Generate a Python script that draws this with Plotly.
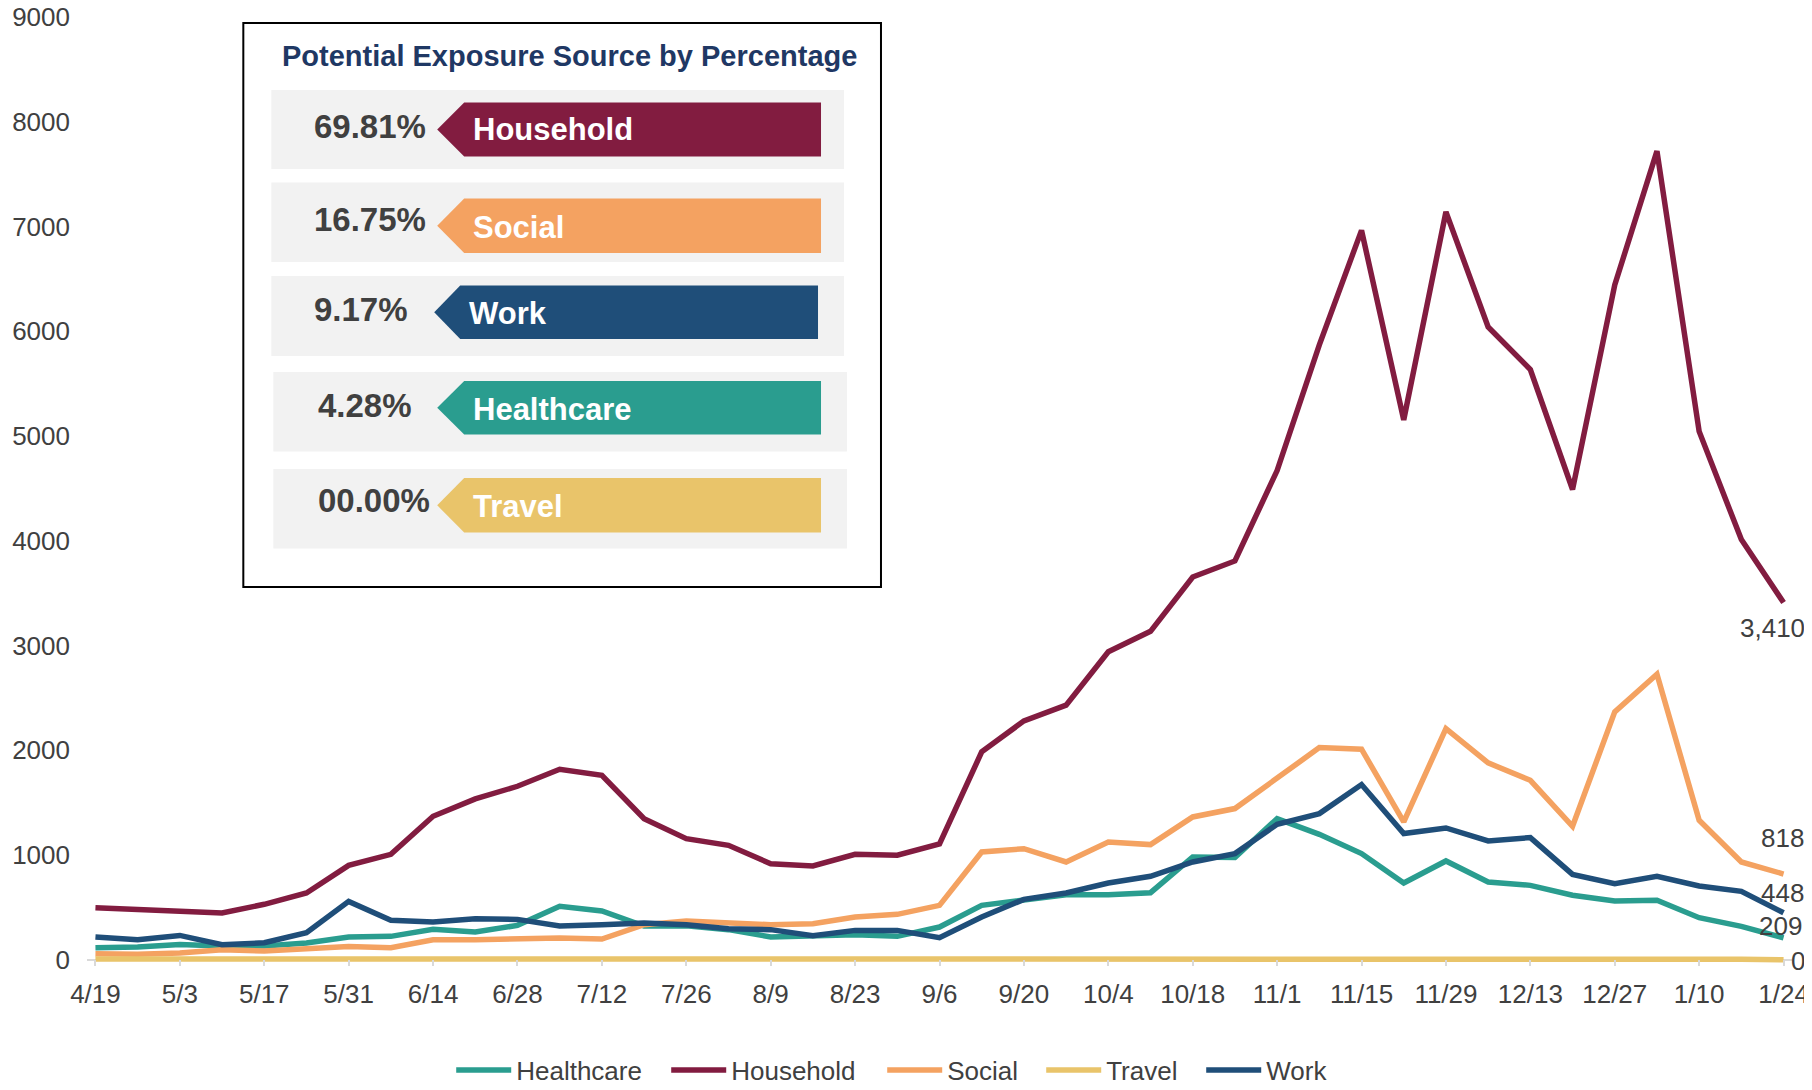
import plotly.graph_objects as go

# ---------------- data ----------------
weeks = ["4/19", "4/26", "5/3", "5/10", "5/17", "5/24", "5/31", "6/7", "6/14", "6/21",
         "6/28", "7/5", "7/12", "7/19", "7/26", "8/2", "8/9", "8/16", "8/23", "8/30",
         "9/6", "9/13", "9/20", "9/27", "10/4", "10/11", "10/18", "10/25", "11/1", "11/8",
         "11/15", "11/22", "11/29", "12/6", "12/13", "12/20", "12/27", "1/3", "1/10", "1/17",
         "1/24"]

healthcare = [115, 121, 146, 131, 131, 159, 217, 223, 290, 264, 328, 510, 465, 322, 325,
              287, 217, 226, 239, 223, 312, 519, 567, 621, 621, 640, 981, 975, 1347, 1197,
              1013, 732, 943, 742, 710, 615, 561, 567, 401, 318, 209]
household = [497, 478, 465, 446, 529, 637, 901, 1006, 1369, 1535, 1656, 1818, 1761, 1347,
             1156, 1092, 917, 895, 1006, 997, 1105, 1984, 2280, 2430, 2940, 3135, 3654,
             3807, 4670, 5870, 6963, 5154, 7140, 6040, 5634, 4489, 6442, 7719, 5044, 4011,
             3410]
social = [57, 51, 64, 96, 83, 105, 127, 115, 191, 191, 201, 207, 197, 334, 369, 350, 334,
          344, 408, 433, 519, 1029, 1060, 933, 1124, 1099, 1363, 1443, 1729, 2025, 2010,
          1315, 2207, 1879, 1713, 1274, 2366, 2726, 1331, 933, 818]
travel = [8, 8, 8, 8, 10, 10, 10, 10, 8, 10, 10, 15, 15, 10, 10, 8, 6, 6, 6, 6, 8, 16,
          10, 8, 8, 6, 6, 8, 10, 10, 8, 8, 6, 6, 8, 6, 6, 6, 4, 4, 0]
work = [217, 191, 232, 143, 162, 258, 557, 376, 360, 392, 385, 322, 334, 350, 334, 296,
        287, 229, 280, 280, 210, 408, 576, 637, 732, 796, 933, 1013, 1293, 1395, 1672,
        1204, 1258, 1134, 1166, 815, 726, 796, 704, 653, 448]

x_tick_labels = weeks[::2]
y_tick_values = [0, 1000, 2000, 3000, 4000, 5000, 6000, 7000, 8000, 9000]
y_tick_labels = ["0", "1000", "2000", "3000", "4000", "5000", "6000", "7000", "8000", "9000"]

inset_title = "Potential Exposure Source by Percentage"
inset_categories = ["Household", "Social", "Work", "Healthcare", "Travel"]
inset_percents = ["69.81%", "16.75%", "9.17%", "4.28%", "00.00%"]

# ---------------- styles ----------------
colors = {
    "Healthcare": "#2A9D8F",
    "Household": "#821C40",
    "Social": "#F4A261",
    "Travel": "#E9C46A",
    "Work": "#1F4E79",
}
legend_widths = {"Healthcare": 145, "Household": 146, "Social": 89, "Travel": 90, "Work": 66}
TEXT = "#404040"
FONT = "Liberation Sans, Arial, sans-serif"

# the page body has an 8px margin: the figure is sized to fit the window exactly
OFF = 8
W_FIG, H_FIG = 1812 - 2 * OFF, 1090 - 2 * OFF
X_LO, X_HI = -0.2, 40.2
Y_LO, Y_HI = -60, 9000
# plot area in screen pixels
S_LEFT, S_TOP = 86.6, 17.0
PW, PH = 1705.9, 948.8
S_BOTTOM = S_TOP + PH
ML = S_LEFT - OFF
MT = S_TOP - OFF


def px(xs):
    return (xs - S_LEFT) / PW


def py(ys):
    return (S_BOTTOM - ys) / PH


series = [("Healthcare", healthcare), ("Household", household), ("Social", social),
          ("Travel", travel), ("Work", work)]

fig = go.Figure()
for name, vals in series:
    fig.add_trace(go.Scatter(
        x=weeks, y=vals, name=name, mode="lines",
        line=dict(color=colors[name], width=5.5),
        legendwidth=legend_widths[name],
        hoverinfo="x+y+name",
    ))

# end-of-series labels
end_labels = [
    (household, -11, -25.5),
    (social, -1, 36),
    (work, -1, 19.5),
    (healthcare, -3, 11.5),
    (travel, 14, -1),
]
annotations = []
for vals, xs, ys in end_labels:
    annotations.append(dict(
        x=weeks[-1], y=vals[-1], xref="x", yref="y", text=f"{vals[-1]:,}",
        showarrow=False, xshift=xs, yshift=ys, xanchor="center", yanchor="middle",
        font=dict(family=FONT, size=26, color=TEXT),
    ))

# ---------------- inset panel ----------------
shapes = []
shapes.append(dict(type="rect", xref="paper", yref="paper",
                   x0=px(243), x1=px(881), y0=py(23), y1=py(587),
                   line=dict(color="#000000", width=2), fillcolor="#FFFFFF", layer="above"))

rows = [
    # gray x0, x1, y0, y1, tip, body, right, ay0, ay1, pct_x, pct_y, lab_x, lab_y
    (271, 844, 90, 169, 437, 464, 821, 102.5, 156.5, 312, 126, 471, 129),
    (271, 844, 182.5, 262, 437, 464, 821, 198.5, 253, 312, 219, 471, 227),
    (271, 844, 276, 356, 434, 460, 818, 285.5, 339, 312, 309, 466.5, 313),
    (273, 847, 372, 451.5, 437, 464, 821, 381, 434.5, 315.5, 405.5, 471, 409),
    (273, 847, 469, 548.5, 437, 464, 821, 478, 532.5, 315.5, 500, 471, 506),
]
for (cat, pct, g) in zip(inset_categories, inset_percents, rows):
    gx0, gx1, gy0, gy1, tip, body, right, ay0, ay1, pxx, pyy, lx, ly = g
    shapes.append(dict(type="rect", xref="paper", yref="paper",
                       x0=px(gx0), x1=px(gx1), y0=py(gy0), y1=py(gy1),
                       line=dict(width=0), fillcolor="#F2F2F2", layer="above"))
    cy = (ay0 + ay1) / 2
    path = (f"M {px(tip)},{py(cy)} L {px(body)},{py(ay0)} L {px(right)},{py(ay0)} "
            f"L {px(right)},{py(ay1)} L {px(body)},{py(ay1)} Z")
    shapes.append(dict(type="path", xref="paper", yref="paper", path=path,
                       line=dict(width=0), fillcolor=colors[cat], layer="above"))
    annotations.append(dict(
        x=px(pxx), y=py(pyy), xref="paper", yref="paper", text=f"<b>{pct}</b>",
        showarrow=False, xanchor="left", yanchor="middle",
        font=dict(family=FONT, size=33, color=TEXT),
    ))
    annotations.append(dict(
        x=px(lx), y=py(ly), xref="paper", yref="paper", text=f"<b>{cat}</b>",
        showarrow=False, xanchor="left", yanchor="middle",
        font=dict(family=FONT, size=31, color="#FFFFFF"),
    ))

annotations.append(dict(
    x=px(569.5), y=py(56), xref="paper", yref="paper", text=f"<b>{inset_title}</b>",
    showarrow=False, xanchor="center", yanchor="middle",
    font=dict(family=FONT, size=29, color="#1F3864"),
))

fig.update_layout(
    width=W_FIG, height=H_FIG,
    margin=dict(l=ML, r=W_FIG - ML - PW, t=MT, b=H_FIG - MT - PH, pad=0, autoexpand=False),
    paper_bgcolor="#FFFFFF", plot_bgcolor="#FFFFFF",
    font=dict(family=FONT, size=26, color=TEXT),
    showlegend=True,
    legend=dict(orientation="h", x=px(451), y=py(1070), xanchor="left", yanchor="middle",
                font=dict(family=FONT, size=26, color=TEXT), itemwidth=55,
                bgcolor="rgba(0,0,0,0)"),
    xaxis=dict(type="category", categoryorder="array", categoryarray=weeks,
               range=[X_LO, X_HI], tickmode="array", tickvals=x_tick_labels,
               ticktext=x_tick_labels, ticks="inside", ticklen=6, tickcolor="#D9D9D9",
               tickwidth=1.5, showline=False, showgrid=False, zeroline=False,
               automargin=False, ticklabeloverflow="allow",
               tickfont=dict(family=FONT, size=26, color=TEXT), ticklabelstandoff=10),
    yaxis=dict(range=[Y_LO, Y_HI], tickmode="array", tickvals=y_tick_values,
               ticktext=y_tick_labels, showgrid=False, showline=False,
               zeroline=True, zerolinecolor="#D9D9D9", zerolinewidth=1.5,
               automargin=False, ticklabeloverflow="allow",
               tickfont=dict(family=FONT, size=26, color=TEXT), ticks="",
               ticklabelstandoff=16),
    shapes=shapes,
    annotations=annotations,
)

fig.write_html("out.html")
